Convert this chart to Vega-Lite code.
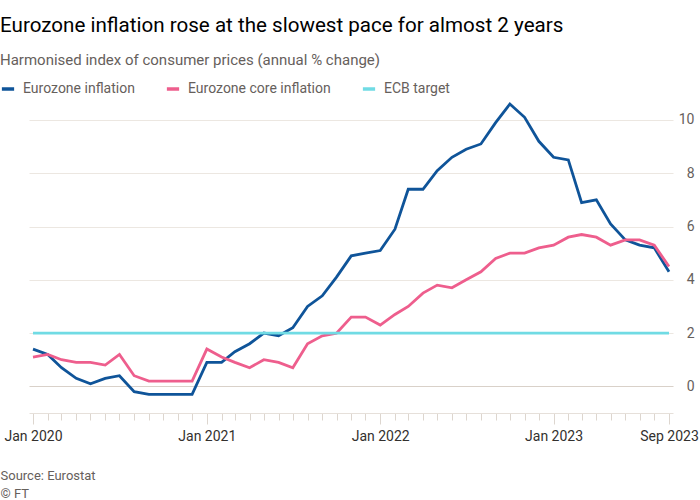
{
  "$schema": "https://vega.github.io/schema/vega-lite/v6.json",
  "autosize": "none",
  "width": 644,
  "height": 313,
  "padding": {"left": 29, "top": 100, "right": 27, "bottom": 87},
  "background": "#ffffff",
  "config": {
    "font": "Roboto",
    "view": {"stroke": null}
  },
  "title": {
    "text": "Eurozone inflation rose at the slowest pace for almost 2 years",
    "subtitle": "Harmonised index of consumer prices (annual % change)",
    "anchor": "start",
    "frame": "group",
    "dx": -29,
    "fontSize": 20.6,
    "fontWeight": "normal",
    "color": "#000000",
    "subtitleFontSize": 15,
    "subtitleColor": "#66605c",
    "subtitlePadding": 16,
    "offset": 13
  },
  "data": {
    "values": [
      {"d": "2020-01-01", "s": "Eurozone inflation", "v": 1.4},
      {"d": "2020-02-01", "s": "Eurozone inflation", "v": 1.2},
      {"d": "2020-03-01", "s": "Eurozone inflation", "v": 0.7},
      {"d": "2020-04-01", "s": "Eurozone inflation", "v": 0.3},
      {"d": "2020-05-01", "s": "Eurozone inflation", "v": 0.1},
      {"d": "2020-06-01", "s": "Eurozone inflation", "v": 0.3},
      {"d": "2020-07-01", "s": "Eurozone inflation", "v": 0.4},
      {"d": "2020-08-01", "s": "Eurozone inflation", "v": -0.2},
      {"d": "2020-09-01", "s": "Eurozone inflation", "v": -0.3},
      {"d": "2020-10-01", "s": "Eurozone inflation", "v": -0.3},
      {"d": "2020-11-01", "s": "Eurozone inflation", "v": -0.3},
      {"d": "2020-12-01", "s": "Eurozone inflation", "v": -0.3},
      {"d": "2021-01-01", "s": "Eurozone inflation", "v": 0.9},
      {"d": "2021-02-01", "s": "Eurozone inflation", "v": 0.9},
      {"d": "2021-03-01", "s": "Eurozone inflation", "v": 1.3},
      {"d": "2021-04-01", "s": "Eurozone inflation", "v": 1.6},
      {"d": "2021-05-01", "s": "Eurozone inflation", "v": 2.0},
      {"d": "2021-06-01", "s": "Eurozone inflation", "v": 1.9},
      {"d": "2021-07-01", "s": "Eurozone inflation", "v": 2.2},
      {"d": "2021-08-01", "s": "Eurozone inflation", "v": 3.0},
      {"d": "2021-09-01", "s": "Eurozone inflation", "v": 3.4},
      {"d": "2021-10-01", "s": "Eurozone inflation", "v": 4.1},
      {"d": "2021-11-01", "s": "Eurozone inflation", "v": 4.9},
      {"d": "2021-12-01", "s": "Eurozone inflation", "v": 5.0},
      {"d": "2022-01-01", "s": "Eurozone inflation", "v": 5.1},
      {"d": "2022-02-01", "s": "Eurozone inflation", "v": 5.9},
      {"d": "2022-03-01", "s": "Eurozone inflation", "v": 7.4},
      {"d": "2022-04-01", "s": "Eurozone inflation", "v": 7.4},
      {"d": "2022-05-01", "s": "Eurozone inflation", "v": 8.1},
      {"d": "2022-06-01", "s": "Eurozone inflation", "v": 8.6},
      {"d": "2022-07-01", "s": "Eurozone inflation", "v": 8.9},
      {"d": "2022-08-01", "s": "Eurozone inflation", "v": 9.1},
      {"d": "2022-09-01", "s": "Eurozone inflation", "v": 9.9},
      {"d": "2022-10-01", "s": "Eurozone inflation", "v": 10.6},
      {"d": "2022-11-01", "s": "Eurozone inflation", "v": 10.1},
      {"d": "2022-12-01", "s": "Eurozone inflation", "v": 9.2},
      {"d": "2023-01-01", "s": "Eurozone inflation", "v": 8.6},
      {"d": "2023-02-01", "s": "Eurozone inflation", "v": 8.5},
      {"d": "2023-03-01", "s": "Eurozone inflation", "v": 6.9},
      {"d": "2023-04-01", "s": "Eurozone inflation", "v": 7.0},
      {"d": "2023-05-01", "s": "Eurozone inflation", "v": 6.1},
      {"d": "2023-06-01", "s": "Eurozone inflation", "v": 5.5},
      {"d": "2023-07-01", "s": "Eurozone inflation", "v": 5.3},
      {"d": "2023-08-01", "s": "Eurozone inflation", "v": 5.2},
      {"d": "2023-09-01", "s": "Eurozone inflation", "v": 4.3},
      {"d": "2020-01-01", "s": "Eurozone core inflation", "v": 1.1},
      {"d": "2020-02-01", "s": "Eurozone core inflation", "v": 1.2},
      {"d": "2020-03-01", "s": "Eurozone core inflation", "v": 1.0},
      {"d": "2020-04-01", "s": "Eurozone core inflation", "v": 0.9},
      {"d": "2020-05-01", "s": "Eurozone core inflation", "v": 0.9},
      {"d": "2020-06-01", "s": "Eurozone core inflation", "v": 0.8},
      {"d": "2020-07-01", "s": "Eurozone core inflation", "v": 1.2},
      {"d": "2020-08-01", "s": "Eurozone core inflation", "v": 0.4},
      {"d": "2020-09-01", "s": "Eurozone core inflation", "v": 0.2},
      {"d": "2020-10-01", "s": "Eurozone core inflation", "v": 0.2},
      {"d": "2020-11-01", "s": "Eurozone core inflation", "v": 0.2},
      {"d": "2020-12-01", "s": "Eurozone core inflation", "v": 0.2},
      {"d": "2021-01-01", "s": "Eurozone core inflation", "v": 1.4},
      {"d": "2021-02-01", "s": "Eurozone core inflation", "v": 1.1},
      {"d": "2021-03-01", "s": "Eurozone core inflation", "v": 0.9},
      {"d": "2021-04-01", "s": "Eurozone core inflation", "v": 0.7},
      {"d": "2021-05-01", "s": "Eurozone core inflation", "v": 1.0},
      {"d": "2021-06-01", "s": "Eurozone core inflation", "v": 0.9},
      {"d": "2021-07-01", "s": "Eurozone core inflation", "v": 0.7},
      {"d": "2021-08-01", "s": "Eurozone core inflation", "v": 1.6},
      {"d": "2021-09-01", "s": "Eurozone core inflation", "v": 1.9},
      {"d": "2021-10-01", "s": "Eurozone core inflation", "v": 2.0},
      {"d": "2021-11-01", "s": "Eurozone core inflation", "v": 2.6},
      {"d": "2021-12-01", "s": "Eurozone core inflation", "v": 2.6},
      {"d": "2022-01-01", "s": "Eurozone core inflation", "v": 2.3},
      {"d": "2022-02-01", "s": "Eurozone core inflation", "v": 2.7},
      {"d": "2022-03-01", "s": "Eurozone core inflation", "v": 3.0},
      {"d": "2022-04-01", "s": "Eurozone core inflation", "v": 3.5},
      {"d": "2022-05-01", "s": "Eurozone core inflation", "v": 3.8},
      {"d": "2022-06-01", "s": "Eurozone core inflation", "v": 3.7},
      {"d": "2022-07-01", "s": "Eurozone core inflation", "v": 4.0},
      {"d": "2022-08-01", "s": "Eurozone core inflation", "v": 4.3},
      {"d": "2022-09-01", "s": "Eurozone core inflation", "v": 4.8},
      {"d": "2022-10-01", "s": "Eurozone core inflation", "v": 5.0},
      {"d": "2022-11-01", "s": "Eurozone core inflation", "v": 5.0},
      {"d": "2022-12-01", "s": "Eurozone core inflation", "v": 5.2},
      {"d": "2023-01-01", "s": "Eurozone core inflation", "v": 5.3},
      {"d": "2023-02-01", "s": "Eurozone core inflation", "v": 5.6},
      {"d": "2023-03-01", "s": "Eurozone core inflation", "v": 5.7},
      {"d": "2023-04-01", "s": "Eurozone core inflation", "v": 5.6},
      {"d": "2023-05-01", "s": "Eurozone core inflation", "v": 5.3},
      {"d": "2023-06-01", "s": "Eurozone core inflation", "v": 5.5},
      {"d": "2023-07-01", "s": "Eurozone core inflation", "v": 5.5},
      {"d": "2023-08-01", "s": "Eurozone core inflation", "v": 5.3},
      {"d": "2023-09-01", "s": "Eurozone core inflation", "v": 4.5},
      {"d": "2020-01-01", "s": "ECB target", "v": 2},
      {"d": "2023-09-01", "s": "ECB target", "v": 2}
    ]
  },
  "mark": {"type": "line", "strokeWidth": 2.8},
  "encoding": {
    "x": {
      "field": "d",
      "type": "temporal",
      "scale": {"type": "utc", "nice": false, "padding": 4},
      "axis": {
        "orient": "bottom",
        "tickCount": {"interval": "month", "step": 1},
        "grid": false,
        "domain": true,
        "domainColor": "#e6e0da",
        "domainWidth": 1,
        "tickColor": "#ddd6cf",
        "tickWidth": 1,
        "tickSize": {"condition": {"test": "utcmonth(datum.value) == 0 || (utcyear(datum.value) == 2023 && utcmonth(datum.value) == 8)", "value": 11}, "value": 7},
        "labelExpr": "utcmonth(datum.value) == 0 || (utcyear(datum.value) == 2023 && utcmonth(datum.value) == 8) ? utcFormat(datum.value, '%b %Y') : ''",
        "labelOverlap": false,
        "labelFlush": false,
        "labelFontSize": 14,
        "labelColor": "#33302e",
        "labelPadding": 5,
        "title": ["Source: Eurostat", "© FT"],
        "titleFontSize": 13,
        "titleFontWeight": "normal",
        "titleColor": "#66605c",
        "titleAnchor": "start",
        "titleAlign": "left",
        "titleBaseline": "alphabetic",
        "titleX": -29,
        "titleY": 66,
        "titleLineHeight": 18
      }
    },
    "y": {
      "field": "v",
      "type": "quantitative",
      "scale": {"domain": [-1, 10.75], "nice": false, "zero": false},
      "axis": {
        "orient": "right",
        "values": [0, 2, 4, 6, 8, 10],
        "domain": false,
        "ticks": false,
        "grid": true,
        "gridColor": {"condition": {"test": "datum.value == 0", "value": "#d9d1c9"}, "value": "#ece7e1"},
        "gridWidth": 1,
        "labelAlign": "right",
        "labelPadding": 21,
        "labelFontSize": 14,
        "labelColor": "#66605c",
        "title": null
      }
    },
    "color": {
      "field": "s",
      "type": "nominal",
      "scale": {
        "domain": ["Eurozone inflation", "Eurozone core inflation", "ECB target"],
        "range": ["#0f5499", "#ee5e8d", "#70dbe4"]
      },
      "legend": {
        "orient": "none",
        "legendX": -29,
        "legendY": -19,
        "direction": "horizontal",
        "title": null,
        "symbolType": "stroke",
        "symbolSize": 150,
        "symbolStrokeWidth": 3.5,
        "labelFontSize": 14,
        "labelColor": "#66605c",
        "labelOffset": 7,
        "columnPadding": 24
      }
    }
  }
}
